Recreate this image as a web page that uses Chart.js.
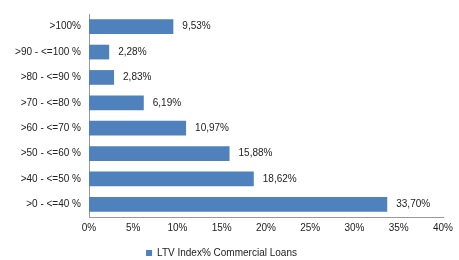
<!DOCTYPE html>
<html>
<head>
<meta charset="utf-8">
<script src="https://cdn.jsdelivr.net/npm/chart.js@4/dist/chart.umd.min.js"></script>
<style>
html,body{margin:0;padding:0;background:#fff;}
#wrap{width:459px;height:260px;position:relative;}
</style>
</head>
<body>
<div id="wrap"><canvas id="c" width="459" height="260"></canvas></div>
<script>
const categories = [">100%", ">90 - <=100 %", ">80 - <=90 %", ">70 - <=80 %", ">60 - <=70 %", ">50 - <=60 %", ">40 - <=50 %", ">0 - <=40 %"];
const seriesName = "LTV Index% Commercial Loans";
const values = [9.53, 2.28, 2.83, 6.19, 10.97, 15.88, 18.62, 33.70];
const xTicks = [0, 5, 10, 15, 20, 25, 30, 35, 40];

const fmt = v => v.toFixed(2).replace('.', ',') + '%';

const labelPlugin = {
  id: 'barLabels',
  afterDatasetsDraw(chart) {
    const ctx = chart.ctx;
    const meta = chart.getDatasetMeta(0);
    ctx.save();
    ctx.font = '10px "Liberation Sans", Arial, sans-serif';
    ctx.fillStyle = '#222';
    ctx.textAlign = 'left';
    ctx.textBaseline = 'middle';
    meta.data.forEach((bar, i) => {
      ctx.fillText(fmt(values[i]), bar.x + 9, bar.y);
    });
    ctx.restore();
  }
};

Chart.defaults.font.family = '"Liberation Sans", Arial, sans-serif';
Chart.defaults.font.size = 10;
Chart.defaults.color = '#222';

new Chart(document.getElementById('c'), {
  type: 'bar',
  data: {
    labels: categories,
    datasets: [{
      label: seriesName,
      data: values,
      backgroundColor: '#4F81BD',
      borderWidth: 0,
      barPercentage: 0.58,
      categoryPercentage: 1.0
    }]
  },
  options: {
    indexAxis: 'y',
    responsive: false,
    animation: false,
    devicePixelRatio: 1,
    layout: { padding: { top: 7, right: 16, left: 0, bottom: 0 } },
    scales: {
      x: {
        min: 0, max: 40,
        afterBuildTicks(scale) { scale.ticks = xTicks.map(v => ({ value: v })); },
        grid: { display: false, drawTicks: false },
        border: { display: true, color: '#999', width: 1 },
        ticks: { padding: 5, callback: v => v + '%', color: '#222', font: { size: 10 } },
        afterFit(scale) { scale.height = 28; }
      },
      y: {
        grid: { display: false, drawTicks: false },
        border: { display: true, color: '#999', width: 1 },
        ticks: { padding: 8, color: '#222', font: { size: 10 } },
        afterFit(scale) { scale.width = 89; }
      }
    },
    plugins: {
      legend: {
        position: 'bottom',
        maxHeight: 15,
        labels: { boxWidth: 6, boxHeight: 6, padding: 3, color: '#222', font: { size: 10 } }
      },
      tooltip: { enabled: false }
    }
  },
  plugins: [labelPlugin]
});
</script>
</body>
</html>
